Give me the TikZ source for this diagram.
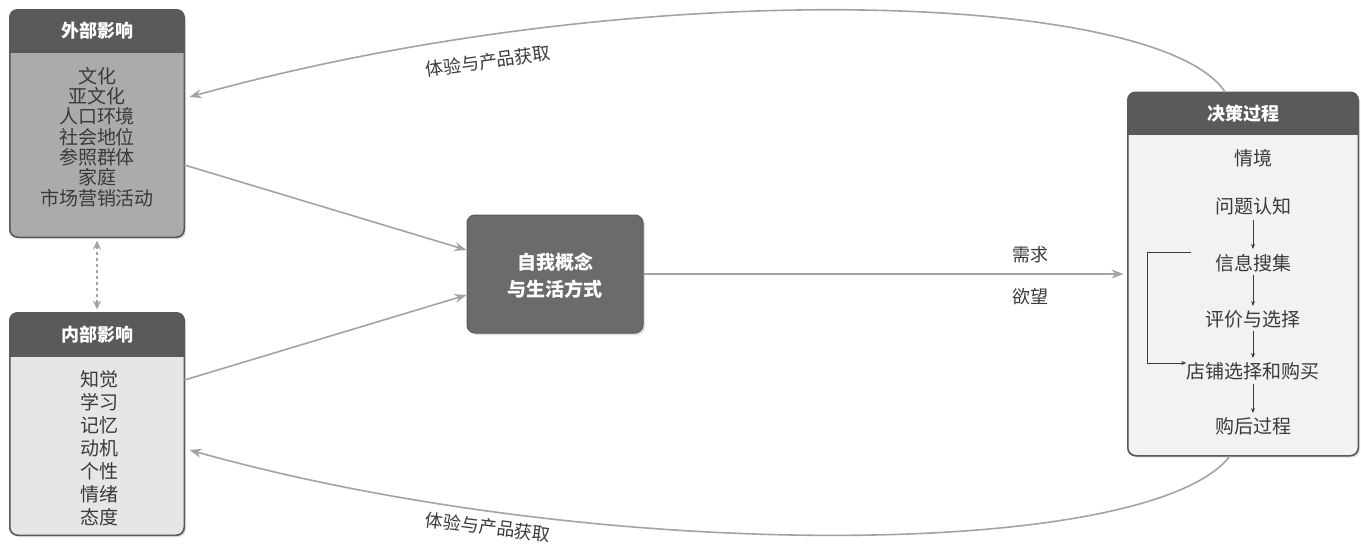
\documentclass[tikz,border=0pt]{standalone}
\usepackage{fontspec}
\newfontfamily\cjk{Noto Sans CJK SC}
\usetikzlibrary{arrows.meta,shadows}
\definecolor{hdr}{HTML}{5A5A5A}
\definecolor{extbody}{HTML}{ABABAB}
\definecolor{intbody}{HTML}{E6E6E6}
\definecolor{decbody}{HTML}{F2F2F2}
\definecolor{midbox}{HTML}{6B6B6B}
\definecolor{arr}{HTML}{A3A3A3}
\definecolor{txt}{HTML}{3A3A3A}
\begin{document}
\begin{tikzpicture}[x=1pt,y=-1pt,
  panel/.style={rounded corners=8pt, draw=black!65, line width=1pt, inner sep=0pt,
     drop shadow={shadow xshift=2pt, shadow yshift=-2pt, opacity=0.25}},
  hdrtext/.style={font=\cjk\fontsize{18}{20}\selectfont\bfseries, text=white},
  bodytext/.style={font=\cjk\fontsize{19}{20.3}\selectfont, text=txt, align=center, inner sep=0pt},
  dectext/.style={font=\cjk\fontsize{19}{20}\selectfont, text=txt, inner sep=0pt},
  flow/.style={draw=arr, line width=1.6pt, -{Stealth[length=12pt,width=9pt]}},
  small/.style={draw=txt, line width=0.9pt, -{Stealth[length=5pt,width=4pt]}},
  lbl/.style={font=\cjk\fontsize{18}{20}\selectfont, text=txt, inner sep=0pt}]
\useasboundingbox (0,0) rectangle (1361,555);
\fill[white] (0,0) rectangle (1361,555);

% external influences
\node[panel, fill=extbody, minimum width=174pt, minimum height=227pt] (ext) at (97,123.5) {};
\begin{scope}
  \clip[rounded corners=8pt] (ext.north west) rectangle (ext.south east);
  \fill[hdr] (ext.north west) rectangle ([yshift=-43pt]ext.north east);
\end{scope}
\draw[rounded corners=8pt, draw=black!65, line width=1pt] (ext.north west) rectangle (ext.south east);
\node[hdrtext] (exth) at (97,31) {外部影响};
\node[bodytext] (extt) at (97,137) {文化\\亚文化\\人口环境\\社会地位\\参照群体\\家庭\\市场营销活动};

% internal influences
\node[panel, fill=intbody, minimum width=174pt, minimum height=222pt] (int) at (97,424) {};
\begin{scope}
  \clip[rounded corners=8pt] (int.north west) rectangle (int.south east);
  \fill[hdr] (int.north west) rectangle ([yshift=-44pt]int.north east);
\end{scope}
\draw[rounded corners=8pt, draw=black!65, line width=1pt] (int.north west) rectangle (int.south east);
\node[hdrtext] (inth) at (97,335) {内部影响};
\node[bodytext, font=\cjk\fontsize{19}{23}\selectfont] (intt) at (99,448) {知觉\\学习\\记忆\\动机\\个性\\情绪\\态度};

% self concept
\node[panel, fill=midbox, minimum width=176pt, minimum height=118pt] (self) at (555,274) {};
\node[hdrtext, align=center, font=\cjk\fontsize{19}{27}\selectfont\bfseries] (selft) at (555,276) {自我概念\\与生活方式};

% decision process
\node[panel, fill=decbody, minimum width=230pt, minimum height=363pt] (dec) at (1243,274) {};
\begin{scope}
  \clip[rounded corners=8pt] (dec.north west) rectangle (dec.south east);
  \fill[hdr] (dec.north west) rectangle ([yshift=-43pt]dec.north east);
\end{scope}
\draw[rounded corners=8pt, draw=black!65, line width=1pt] (dec.north west) rectangle (dec.south east);
\node[hdrtext] (dech) at (1243,114) {决策过程};
\node[dectext] (d1) at (1253,158) {情境};
\node[dectext] (d2) at (1253,206) {问题认知};
\node[dectext] (d3) at (1253,263) {信息搜集};
\node[dectext] (d4) at (1253,319) {评价与选择};
\node[dectext] (d5) at (1253,371) {店铺选择和购买};
\node[dectext] (d6) at (1253,426) {购后过程};
\draw[small] ([yshift=-5pt]d2.south) -- ([yshift=5pt]d3.north);
\draw[small] ([yshift=-3pt]d3.south) -- ([yshift=4pt]d4.north);
\draw[small] ([yshift=-3pt]d4.south) -- ([yshift=4pt]d5.north);
\draw[small] ([yshift=-4pt]d5.south) -- ([yshift=4pt]d6.north);
\coordinate (bk1) at (1191,252);
\draw[small] (bk1) -- (1147,252) -- (1147,363) -- (d5.west |- 0,363);

% flows
\draw[flow] (ext.east |- 0,165) -- ([yshift=24pt]self.west);
\draw[flow] (int.east |- 0,380) -- ([yshift=-21pt]self.west);
\draw[flow] (self.east) -- ([xshift=-4pt]dec.west |- self.east);
\node[lbl] (need) at (1030,255) {需求};
\node[lbl] (want) at (1030,297) {欲望};
\draw[draw=arr, line width=1.6pt, dashed, dash pattern=on 3pt off 3pt, {Stealth[length=9pt,width=8pt]}-{Stealth[length=9pt,width=8pt]}] ([yshift=-3pt]ext.south) -- ([yshift=3pt]int.north);

% feedback curves
\draw[flow] ([xshift=-18pt]dec.north) .. controls (1160,-8) and (640,-28) .. ([xshift=5pt]ext.east |- 0,97);
\draw[flow] ([xshift=-13pt]dec.south) .. controls (1150,560) and (600,565) .. ([xshift=5pt]int.east |- 0,450);
\node[lbl, rotate=8] (fb1) at (488,61) {体验与产品获取};
\node[lbl, rotate=-7] (fb2) at (488,527) {体验与产品获取};
\end{tikzpicture}
\end{document}
